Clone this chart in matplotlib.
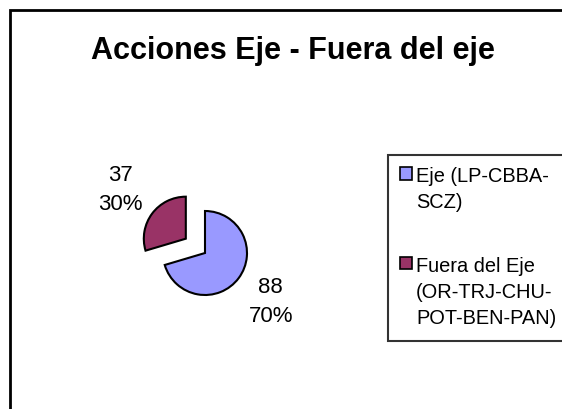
import matplotlib
matplotlib.use("Agg")
import matplotlib.pyplot as plt
from matplotlib.patches import Rectangle

plt.rcParams['font.family'] = ['Liberation Sans', 'DejaVu Sans']

# data
labels = ['Eje (LP-CBBA-\nSCZ)', 'Fuera del Eje\n(OR-TRJ-CHU-\nPOT-BEN-PAN)']
values = [88, 37]
colors = ['#9999FF', '#993366']
explode = [0, 0.57]
title = 'Acciones Eje - Fuera del eje'

W, H = 562, 409
fig = plt.figure(figsize=(W / 100, H / 100), dpi=100)

# outer chart frame (open at right and bottom, as in the reference)
fig.patches.append(Rectangle((10 / W, -0.2), 1.2, 1.2 - 10 / H, transform=fig.transFigure,
                             fill=False, edgecolor='black', linewidth=2))

fig.text(293 / W, 1 - 51 / H, title, ha='center', va='center',
         fontsize=22, fontweight='bold')

# pie axes: center at (205, 253) px, 42 px per unit
cx, cy, half = 205, H - 253, 84
ax = fig.add_axes([(cx - half) / W, (cy - half) / H, 2 * half / W, 2 * half / H])
total = sum(values)
wedges, texts, autotexts = ax.pie(
    values, colors=colors, explode=explode, startangle=90, counterclock=False,
    autopct=lambda p: f"{round(p * total / 100)}\n{p:.0f}%", pctdistance=1.95,
    wedgeprops=dict(edgecolor='black', linewidth=1.5),
    textprops=dict(fontsize=16))
for t in autotexts:
    t.set_linespacing(1.5)
    t.set_multialignment('center')
ax.set_xlim(-2, 2)
ax.set_ylim(-2, 2)
ax.set_axis_off()

leg = fig.legend(wedges, labels, loc='upper left', bbox_to_anchor=(388 / W, 1 - 155 / H),
                 frameon=True, fancybox=False, fontsize=14.4, handlelength=0.6,
                 handleheight=0.6, handletextpad=0.2, labelspacing=2.2,
                 borderpad=0.6, borderaxespad=0)
leg.get_frame().set_edgecolor('black')
leg.get_frame().set_linewidth(1.5)
for t in leg.get_texts():
    t.set_linespacing(1.5)
for col in leg._legend_handle_box.get_children():
    for row in col.get_children():
        row.align = 'top'
for h in leg.legend_handles:
    h.set_edgecolor('black')
    h.set_linewidth(1.2)

fig.savefig('out.png', dpi=100)
